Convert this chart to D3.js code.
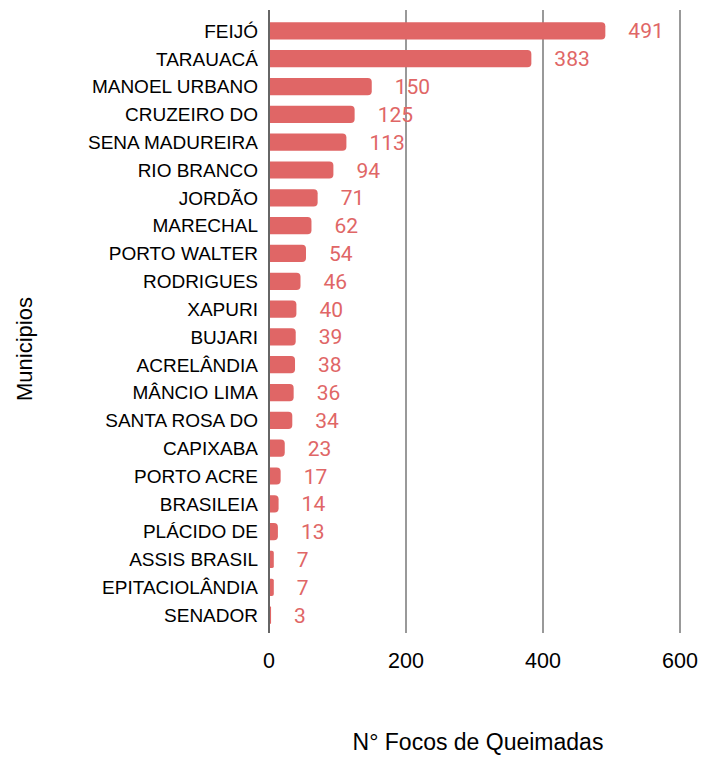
<!DOCTYPE html>
<html>
<head>
<meta charset="utf-8">
<script src="https://cdn.jsdelivr.net/npm/d3@7"></script>
<style>
  body { margin: 0; background: #fff; }
</style>
</head>
<body>
<div id="chart"></div>
<script>
var municipios = ["FEIJÓ", "TARAUACÁ", "MANOEL URBANO", "CRUZEIRO DO", "SENA MADUREIRA",
  "RIO BRANCO", "JORDÃO", "MARECHAL", "PORTO WALTER", "RODRIGUES", "XAPURI", "BUJARI",
  "ACRELÂNDIA", "MÂNCIO LIMA", "SANTA ROSA DO", "CAPIXABA", "PORTO ACRE", "BRASILEIA",
  "PLÁCIDO DE", "ASSIS BRASIL", "EPITACIOLÂNDIA", "SENADOR"];
var focos = [491, 383, 150, 125, 113, 94, 71, 62, 54, 46, 40, 39, 38, 36, 34, 23, 17, 14, 13, 7, 7, 3];
var ticks = [0, 200, 400, 600];

var width = 702,
    height = 757;
var margin = { top: 17, left: 269, right: 22, bottom: 128 };
var barColor = "#e06666";

var svg = d3.select("#chart")
  .append("svg")
  .attr("width", width)
  .attr("height", height);

var x = d3.scaleLinear()
  .domain([0, 600])
  .range([margin.left, margin.left + 411]);

var y = d3.scaleBand()
  .domain(municipios)
  .range([margin.top, height - margin.bottom])
  .paddingInner(0.38)
  .paddingOuter(0.19);

// grid lines
svg.selectAll(".grid")
  .data(ticks)
  .enter().append("line")
  .attr("x1", function(d) { return x(d); })
  .attr("x2", function(d) { return x(d); })
  .attr("y1", 10)
  .attr("y2", 633)
  .attr("stroke", function(d) { return d === 0 ? "#333" : "#777"; })
  .attr("stroke-width", 1.5);

// bars, rounded at the right end only
function barPath(d, i) {
  var x0 = x(0) + 1, x1 = x(d), yt = y(municipios[i]), h = y.bandwidth();
  var r = Math.min(4, (x1 - x0) / 2, h / 2);
  if (x1 - x0 < 0.5) x1 = x0 + 0.5;
  return "M" + x0 + "," + yt +
    "H" + (x1 - r) +
    "Q" + x1 + "," + yt + " " + x1 + "," + (yt + r) +
    "V" + (yt + h - r) +
    "Q" + x1 + "," + (yt + h) + " " + (x1 - r) + "," + (yt + h) +
    "H" + x0 + "Z";
}

svg.selectAll(".bar")
  .data(focos)
  .enter().append("path")
  .attr("class", "bar")
  .attr("d", barPath)
  .attr("fill", barColor);

// value labels
svg.selectAll(".val")
  .data(focos)
  .enter().append("text")
  .attr("x", function(d) { return x(d) + 23; })
  .attr("y", function(d, i) { return y(municipios[i]) + y.bandwidth() / 2; })
  .attr("dy", "0.36em")
  .attr("fill", barColor)
  .style("font-family", "Roboto, sans-serif")
  .style("font-size", "21px")
  .text(function(d) { return d; });

// category labels
svg.selectAll(".cat")
  .data(municipios)
  .enter().append("text")
  .attr("x", x(0) - 11)
  .attr("y", function(d) { return y(d) + y.bandwidth() / 2; })
  .attr("dy", "0.36em")
  .attr("text-anchor", "end")
  .attr("fill", "#000")
  .style("font-family", "'Liberation Sans', Arial, sans-serif")
  .style("font-size", "19px")
  .text(function(d) { return d; });

// tick labels
svg.selectAll(".tick")
  .data(ticks)
  .enter().append("text")
  .attr("x", function(d) { return x(d); })
  .attr("y", 668)
  .attr("text-anchor", "middle")
  .attr("fill", "#000")
  .style("font-family", "'Liberation Sans', Arial, sans-serif")
  .style("font-size", "21.5px")
  .text(function(d) { return d; });

// axis titles
svg.append("text")
  .attr("x", 478)
  .attr("y", 750)
  .attr("text-anchor", "middle")
  .style("font-family", "'Liberation Sans', Arial, sans-serif")
  .style("font-size", "23px")
  .text("N° Focos de Queimadas");

svg.append("text")
  .attr("transform", "translate(32,349) rotate(-90)")
  .attr("text-anchor", "middle")
  .style("font-family", "'Liberation Sans', Arial, sans-serif")
  .style("font-size", "22px")
  .text("Municipios");
</script>
</body>
</html>
